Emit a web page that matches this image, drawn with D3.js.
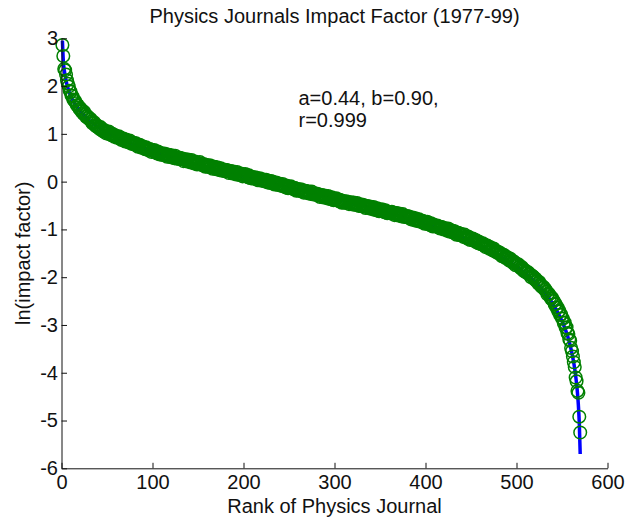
<!DOCTYPE html>
<html><head><meta charset="utf-8">
<script src="https://cdn.jsdelivr.net/npm/d3@7"></script>
<style>
body{margin:0;background:#fff}
text{font-family:"Liberation Sans",Arial,Helvetica,sans-serif;fill:#111}
</style>
</head><body><svg id="c" width="631" height="523"></svg>
<script>
// ln(impact factor) of physics journals by rank (1..570)
const impact = [
2.86,2.63,2.36,2.33,2.24,2.12,2.05,1.99,1.90,1.88,
1.80,1.79,1.72,1.70,1.69,1.64,1.60,1.60,1.55,1.52,
1.53,1.47,1.48,1.42,1.46,1.40,1.36,1.38,1.33,1.34,
1.30,1.31,1.26,1.22,1.24,1.24,1.18,1.16,1.18,1.14,
1.14,1.10,1.14,1.08,1.09,1.05,1.08,1.06,1.01,1.04,
1.02,1.05,0.99,1.01,0.97,1.00,0.97,0.94,0.97,0.94,
0.92,0.94,0.95,0.90,0.92,0.87,0.90,0.90,0.87,0.84,
0.88,0.84,0.85,0.82,0.86,0.82,0.79,0.82,0.79,0.81,
0.77,0.80,0.77,0.73,0.76,0.77,0.73,0.71,0.74,0.71,
0.72,0.68,0.72,0.68,0.68,0.65,0.68,0.67,0.62,0.65,
0.64,0.66,0.62,0.63,0.59,0.63,0.60,0.57,0.60,0.57,
0.56,0.57,0.59,0.55,0.57,0.52,0.56,0.56,0.54,0.51,
0.55,0.51,0.53,0.49,0.54,0.50,0.48,0.50,0.48,0.50,
0.47,0.49,0.47,0.43,0.47,0.47,0.44,0.42,0.46,0.43,
0.44,0.40,0.45,0.40,0.41,0.38,0.42,0.40,0.36,0.39,
0.38,0.41,0.36,0.37,0.34,0.37,0.34,0.31,0.35,0.32,
0.31,0.32,0.34,0.30,0.32,0.27,0.31,0.31,0.29,0.26,
0.30,0.26,0.28,0.24,0.28,0.25,0.23,0.25,0.22,0.25,
0.22,0.24,0.22,0.18,0.22,0.22,0.19,0.17,0.21,0.18,
0.19,0.15,0.20,0.15,0.16,0.14,0.17,0.16,0.11,0.15,
0.13,0.16,0.11,0.13,0.09,0.13,0.10,0.07,0.10,0.08,
0.06,0.08,0.09,0.06,0.07,0.03,0.06,0.07,0.04,0.02,
0.05,0.02,0.03,0.00,0.04,0.01,-0.02,0.01,-0.02,0.01,
-0.03,0.00,-0.03,-0.06,-0.03,-0.02,-0.06,-0.07,-0.04,-0.06,
-0.06,-0.09,-0.05,-0.09,-0.09,-0.12,-0.08,-0.10,-0.14,-0.11,
-0.12,-0.10,-0.14,-0.13,-0.16,-0.13,-0.15,-0.19,-0.15,-0.18,
-0.19,-0.18,-0.16,-0.20,-0.18,-0.23,-0.19,-0.19,-0.21,-0.24,
-0.20,-0.24,-0.22,-0.26,-0.21,-0.25,-0.27,-0.25,-0.27,-0.25,
-0.28,-0.26,-0.28,-0.32,-0.28,-0.28,-0.31,-0.33,-0.29,-0.32,
-0.31,-0.35,-0.30,-0.35,-0.34,-0.37,-0.33,-0.35,-0.39,-0.36,
-0.37,-0.35,-0.39,-0.38,-0.41,-0.38,-0.40,-0.44,-0.40,-0.43,
-0.44,-0.43,-0.41,-0.44,-0.43,-0.47,-0.44,-0.43,-0.46,-0.48,
-0.44,-0.48,-0.46,-0.49,-0.45,-0.48,-0.51,-0.48,-0.51,-0.48,
-0.51,-0.49,-0.51,-0.55,-0.51,-0.51,-0.54,-0.56,-0.52,-0.55,
-0.54,-0.58,-0.53,-0.58,-0.57,-0.60,-0.56,-0.58,-0.62,-0.59,
-0.60,-0.58,-0.62,-0.60,-0.64,-0.60,-0.63,-0.66,-0.63,-0.65,
-0.66,-0.65,-0.63,-0.67,-0.65,-0.70,-0.66,-0.66,-0.68,-0.71,
-0.67,-0.71,-0.69,-0.73,-0.68,-0.72,-0.74,-0.72,-0.74,-0.72,
-0.75,-0.73,-0.76,-0.79,-0.76,-0.75,-0.79,-0.81,-0.77,-0.80,
-0.79,-0.83,-0.79,-0.83,-0.83,-0.85,-0.82,-0.84,-0.88,-0.85,
-0.86,-0.84,-0.89,-0.87,-0.91,-0.87,-0.90,-0.94,-0.90,-0.93,
-0.94,-0.93,-0.92,-0.95,-0.94,-0.98,-0.95,-0.95,-0.97,-1.00,
-0.97,-1.00,-0.99,-1.03,-0.98,-1.02,-1.05,-1.02,-1.05,-1.03,
-1.07,-1.04,-1.07,-1.11,-1.07,-1.07,-1.11,-1.12,-1.09,-1.12,
-1.12,-1.16,-1.11,-1.16,-1.16,-1.19,-1.15,-1.17,-1.22,-1.19,
-1.21,-1.19,-1.23,-1.22,-1.26,-1.23,-1.25,-1.29,-1.26,-1.29,
-1.31,-1.30,-1.29,-1.33,-1.32,-1.37,-1.34,-1.34,-1.37,-1.40,
-1.37,-1.41,-1.40,-1.44,-1.40,-1.44,-1.47,-1.46,-1.49,-1.47,
-1.51,-1.49,-1.52,-1.56,-1.53,-1.53,-1.58,-1.60,-1.57,-1.60,
-1.60,-1.65,-1.61,-1.66,-1.66,-1.70,-1.67,-1.69,-1.75,-1.72,
-1.74,-1.73,-1.78,-1.78,-1.82,-1.79,-1.83,-1.87,-1.85,-1.88,
-1.91,-1.90,-1.90,-1.94,-1.94,-2.00,-1.97,-1.98,-2.01,-2.05,
-2.03,-2.08,-2.08,-2.13,-2.10,-2.15,-2.19,-2.18,-2.22,-2.21,
-2.26,-2.26,-2.30,-2.36,-2.34,-2.36,-2.41,-2.45,-2.43,-2.48,
-2.50,-2.57,-2.56,-2.64,-2.63,-2.72,-2.70,-2.79,-2.78,-2.86,
-2.87,-2.96,-2.95,-3.06,-3.05,-3.17,-3.19,-3.30,-3.33,-3.48,
-3.55,-3.66,-3.78,-3.88,-4.10,-4.18,-4.38,-4.42,-4.92,-5.25
];
// fitted curve (a=0.44, b=0.90), read at selected ranks
const fitRanks  = [1,2,3,4,6,8,10,14,20,30,45,60,80,100,130,160,200,250,300,350,400,450,480,500,520,540,550,556,560,563,565,567,568,569,570];
const fitValues = [2.95,2.52,2.34,2.22,2.03,1.90,1.80,1.65,1.48,1.29,1.08,0.93,0.77,0.63,0.46,0.30,0.11,-0.12,-0.35,-0.60,-0.89,-1.25,-1.54,-1.78,-2.09,-2.56,-2.92,-3.22,-3.51,-3.80,-4.06,-4.42,-4.68,-5.05,-5.70];
const xTicks = [0,100,200,300,400,500,600];
const yTicks = [-6,-5,-4,-3,-2,-1,0,1,2,3];
const title = "Physics Journals Impact Factor (1977-99)";
const xLabel = "Rank of Physics Journal";
const yLabel = "ln(impact factor)";
const annotation = ["a=0.44, b=0.90,", "r=0.999"];

const svg = d3.select("#c");
const x = d3.scaleLinear().domain([0,600]).range([61.5,607.5]);
const y = d3.scaleLinear().domain([-6,3]).range([468.3,38.3]);
const FS = 20;

// fit line (under markers)
const fit = fitRanks.map((r,i)=>[r,fitValues[i]]);
svg.append("path").datum(fit)
  .attr("d", d3.line().x(d=>x(d[0])).y(d=>y(d[1])).curve(d3.curveMonotoneX))
  .attr("fill","none").attr("stroke","#0000ff").attr("stroke-width",3.5);

// data markers
svg.append("g").selectAll("circle").data(impact).join("circle")
  .attr("cx",(d,i)=>x(i+1)).attr("cy",d=>y(d)).attr("r",6.3)
  .attr("fill","none").attr("stroke","#008000").attr("stroke-width",1.5);

// axes
const xa = svg.append("g").attr("transform","translate(0,468.3)")
  .call(d3.axisBottom(x).tickValues(xTicks).tickFormat(d=>String(d)).tickSizeInner(-5.5).tickSizeOuter(0).tickPadding(6.8));
const ya = svg.append("g").attr("transform","translate(61.5,0)")
  .call(d3.axisLeft(y).tickValues(yTicks).tickFormat(d=>String(d)).tickSizeInner(-5.5).tickSizeOuter(0).tickPadding(3.5));
[xa,ya].forEach(g=>{
  g.selectAll("path,line").attr("stroke","#111").attr("stroke-width",1);
  g.selectAll("text").attr("font-size",FS).attr("fill","#111")
   .attr("font-family","'Liberation Sans',Arial,Helvetica,sans-serif");
});

// title & labels
svg.append("text").attr("x",334.5).attr("y",23).attr("text-anchor","middle")
  .attr("font-size",FS).text(title);
svg.append("text").attr("x",334.5).attr("y",513).attr("text-anchor","middle")
  .attr("font-size",FS).text(xLabel);
svg.append("text").attr("transform","translate(29.5,253.3) rotate(-90)").attr("text-anchor","middle")
  .attr("font-size",FS).text(yLabel);

// annotation
const ann = svg.append("text").attr("font-size",FS);
annotation.forEach((t,i)=>ann.append("tspan").attr("x",298.5).attr("y",105+i*21.7).text(t));
</script></body></html>
